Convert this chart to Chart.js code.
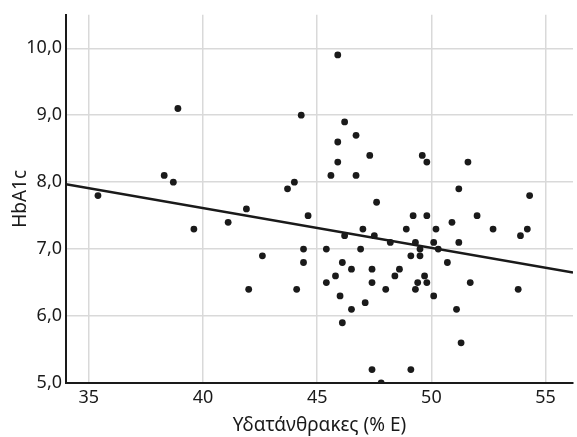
<!DOCTYPE html>
<html>
<head>
<meta charset="utf-8">
<script src="https://cdn.jsdelivr.net/npm/chart.js@4/dist/chart.umd.min.js"></script>
<style>
  html, body { margin: 0; padding: 0; background: #fff; }
  #wrap { width: 577px; height: 437px; }
</style>
</head>
<body>
<div id="wrap"><canvas id="scatter"></canvas></div>
<script>
// carbohydrates (% E) of each participant
const carbs = [
  35.4, 38.9, 38.3, 38.7, 41.9, 43.7, 44.0, 39.6, 41.1, 42.6,
  42.0, 44.1, 45.9, 44.3, 46.2, 46.7, 45.9, 47.3, 45.9, 49.6,
  49.8, 51.6, 45.6, 46.7, 51.2, 54.3, 47.6, 44.6, 49.2, 49.8,
  52.0, 50.9, 47.0, 48.9, 50.2, 52.7, 54.2, 53.9, 46.2, 47.5,
  48.2, 49.3, 50.1, 51.2, 44.4, 45.4, 46.9, 49.5, 50.3, 49.1,
  49.5, 44.4, 46.1, 50.7, 46.5, 47.4, 48.6, 45.8, 48.4, 49.7,
  45.4, 47.4, 49.4, 49.8, 51.7, 48.0, 49.3, 53.8, 46.0, 50.1,
  47.1, 46.5, 51.1, 46.1, 51.3, 47.4, 49.1, 47.8
];
// HbA1c of each participant
const hba1c = [
  7.8, 9.1, 8.1, 8.0, 7.6, 7.9, 8.0, 7.3, 7.4, 6.9,
  6.4, 6.4, 9.9, 9.0, 8.9, 8.7, 8.6, 8.4, 8.3, 8.4,
  8.3, 8.3, 8.1, 8.1, 7.9, 7.8, 7.7, 7.5, 7.5, 7.5,
  7.5, 7.4, 7.3, 7.3, 7.3, 7.3, 7.3, 7.2, 7.2, 7.2,
  7.1, 7.1, 7.1, 7.1, 7.0, 7.0, 7.0, 7.0, 7.0, 6.9,
  6.9, 6.8, 6.8, 6.8, 6.7, 6.7, 6.7, 6.6, 6.6, 6.6,
  6.5, 6.5, 6.5, 6.5, 6.5, 6.4, 6.4, 6.4, 6.3, 6.3,
  6.2, 6.1, 6.1, 5.9, 5.6, 5.2, 5.2, 5.0
];
// fitted line end points
const fitX = [34, 56.2];
const fitY = [7.97, 6.65];

const xTicks = [35, 40, 45, 50, 55];
const yTicks = [5, 6, 7, 8, 9, 10];

const ink = '#1a1a1a';
const gridColor = '#d9d9d9';
const fontFamily = '"Noto Sans", "Open Sans", sans-serif';

const points = carbs.map((c, i) => ({ x: c, y: hba1c[i] }));
const fitLine = fitX.map((x, i) => ({ x: x, y: fitY[i] }));

new Chart(document.getElementById('scatter'), {
  type: 'scatter',
  data: {
    datasets: [
      {
        type: 'line',
        data: fitLine,
        borderColor: ink,
        borderWidth: 2.5,
        pointRadius: 0,
        fill: false,
        order: 1
      },
      {
        data: points,
        backgroundColor: ink,
        borderWidth: 0,
        pointRadius: 3.4,
        order: 0
      }
    ]
  },
  options: {
    responsive: true,
    maintainAspectRatio: false,
    animation: false,
    layout: { padding: { top: 13, right: 0, bottom: 0, left: 0 } },
    plugins: { legend: { display: false }, tooltip: { enabled: false } },
    scales: {
      x: {
        type: 'linear',
        min: 34,
        max: 56.2,
        afterBuildTicks: axis => { axis.ticks = xTicks.map(v => ({ value: v })); },
        afterFit: axis => { axis.height = 54; },
        grid: { color: gridColor, lineWidth: 1.5, drawTicks: false },
        border: { color: ink, width: 2 },
        ticks: {
          color: ink,
          padding: 4,
          font: { family: fontFamily, size: 18 },
          maxRotation: 0
        },
        title: {
          display: true,
          text: 'Υδατάνθρακες (% E)',
          color: ink,
          font: { family: fontFamily, size: 19 },
          padding: { top: 0, bottom: 0 }
        }
      },
      y: {
        type: 'linear',
        min: 5,
        max: 10.5,
        afterBuildTicks: axis => { axis.ticks = yTicks.map(v => ({ value: v })); },
        afterFit: axis => { axis.width = 66; },
        grid: { color: gridColor, lineWidth: 1.5, drawTicks: false },
        border: { color: ink, width: 2 },
        ticks: {
          color: ink,
          padding: 4,
          font: { family: fontFamily, size: 18 },
          callback: v => v.toFixed(1).replace('.', ',')
        },
        title: {
          display: true,
          text: 'HbA1c',
          color: ink,
          font: { family: fontFamily, size: 19 },
          padding: { top: 9, bottom: 0 }
        }
      }
    }
  }
});
</script>
</body>
</html>
